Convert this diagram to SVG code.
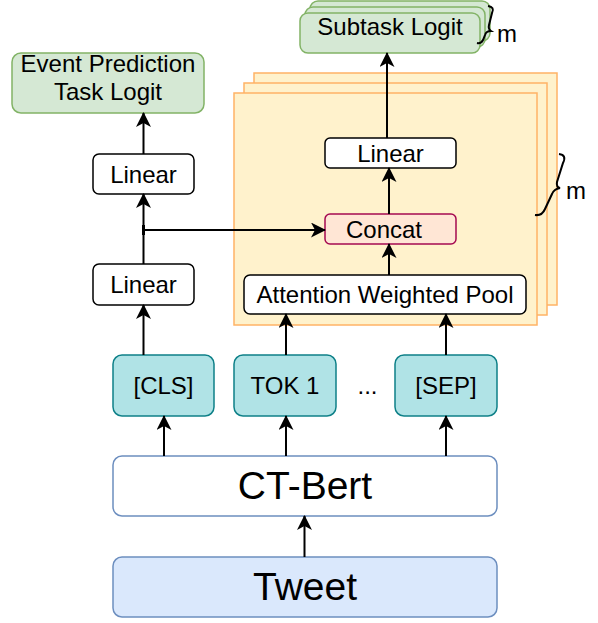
<svg xmlns="http://www.w3.org/2000/svg" width="598" height="623" viewBox="0 0 598 623">
<style>
text{font-family:"Liberation Sans",Arial,sans-serif;fill:#000;text-anchor:middle}
.t{font-size:24px}
.big{font-size:39px}
.white{fill:#fff;stroke:#000;stroke-width:1.5}
.green{fill:#d5e8d4;stroke:#82b366;stroke-width:1.5}
.orange{fill:#fff2cc;stroke:#ffb366;stroke-width:1.5}
.teal{fill:#b0e3e6;stroke:#0e8088;stroke-width:1.5}
.blue{fill:#dae8fc;stroke:#6c8ebf;stroke-width:1.5}
.bwhite{fill:#fff;stroke:#6c8ebf;stroke-width:1.5}
.concat{fill:#ffe6d5;stroke:#a50a50;stroke-width:1.5}
.edge{fill:none;stroke:#000;stroke-width:2;marker-end:url(#ah)}
.brace{fill:none;stroke:#000;stroke-width:2}
</style>
<defs>
<marker id="ah" viewBox="0 0 15 15" refX="14" refY="7.5" markerWidth="15" markerHeight="15" orient="auto" markerUnits="userSpaceOnUse">
<path d="M0,0 L15,7.5 L0,15 L4,7.5 z" fill="#000"/>
</marker>
</defs>

<g id="task-stack">
<rect class="orange" x="254" y="73" width="303" height="232"/>
<rect class="orange" x="244" y="83" width="303" height="232"/>
<rect class="orange" x="234" y="93" width="303" height="232"/>
<path class="brace" d="M559,154 Q567,155 563,163 L557,182 Q556,187 560,188 Q554,189 552,194 L545,209 Q542,216 535,215"/>
<text class="t" x="576" y="199">m</text>
</g>

<g id="subtask-logit">
<rect class="green" x="310" y="1" width="180" height="40" rx="8"/>
<rect class="green" x="305" y="7" width="180" height="40" rx="8"/>
<rect class="green" x="300" y="13" width="180" height="40" rx="8"/>
<path class="brace" d="M488,6 Q495,7 492,13 L489,25 Q488,29 491,31 Q486,31 485,35 L483,40 Q481,44 477,43"/>
<text class="t" x="390" y="35">Subtask Logit</text>
<text class="t" x="507" y="42">m</text>
</g>

<g id="event-logit">
<rect class="green" x="12" y="53" width="192" height="60" rx="9"/>
<text class="t" x="108" y="72">Event Prediction</text>
<text class="t" x="108" y="100">Task Logit</text>
</g>

<g id="linear-upper">
<rect class="white" x="93" y="154" width="101" height="40" rx="6"/>
<text class="t" x="143.5" y="182.5">Linear</text>
</g>

<g id="linear-lower">
<rect class="white" x="93" y="264" width="101" height="41" rx="6"/>
<text class="t" x="143.5" y="293">Linear</text>
</g>

<g id="linear-task">
<rect class="white" x="325" y="138" width="131" height="30" rx="5"/>
<text class="t" x="390.5" y="161.5">Linear</text>
</g>

<g id="concat">
<rect class="concat" x="325" y="214" width="131" height="30" rx="5"/>
<text class="t" x="384" y="237.5">Concat</text>
</g>

<g id="attention-pool">
<rect class="white" x="244" y="275" width="282" height="39" rx="6"/>
<text class="t" x="385" y="303">Attention Weighted Pool</text>
</g>

<g id="tok-cls">
<rect class="teal" x="113" y="355" width="101" height="61" rx="9"/>
<text class="t" x="163.5" y="394">[CLS]</text>
</g>

<g id="tok-1">
<rect class="teal" x="234" y="355" width="102" height="61" rx="9"/>
<text class="t" x="285" y="394">TOK 1</text>
</g>

<g id="ellipsis">
<text class="t" x="367.5" y="394">...</text>
</g>

<g id="tok-sep">
<rect class="teal" x="395" y="355" width="102" height="61" rx="9"/>
<text class="t" x="446" y="394">[SEP]</text>
</g>

<g id="ct-bert">
<rect class="bwhite" x="113" y="456" width="384" height="60" rx="9"/>
<text class="big" x="305" y="498.5">CT-Bert</text>
</g>

<g id="tweet">
<rect class="blue" x="113" y="557" width="384" height="60" rx="9"/>
<text class="big" x="305" y="600">Tweet</text>
</g>

<g id="connectors">
<line class="edge" x1="143.5" y1="355" x2="143.5" y2="305"/>
<line class="edge" x1="143.5" y1="264" x2="143.5" y2="194"/>
<line class="edge" x1="143.5" y1="154" x2="143.5" y2="113"/>
<rect x="142" y="225" width="3" height="10" fill="#000"/>
<line class="edge" x1="143.5" y1="230" x2="325" y2="230"/>
<line class="edge" x1="286" y1="355" x2="286" y2="314"/>
<line class="edge" x1="446" y1="355" x2="446" y2="314"/>
<line class="edge" x1="389" y1="275" x2="389" y2="244"/>
<line class="edge" x1="389" y1="214" x2="389" y2="168"/>
<line class="edge" x1="387" y1="138" x2="387" y2="53"/>
<line class="edge" x1="164" y1="456" x2="164" y2="416"/>
<line class="edge" x1="286" y1="456" x2="286" y2="416"/>
<line class="edge" x1="446" y1="456" x2="446" y2="416"/>
<line class="edge" x1="304.5" y1="557" x2="304.5" y2="516"/>
</g>
</svg>
